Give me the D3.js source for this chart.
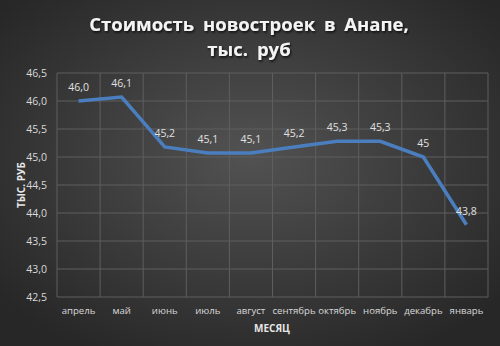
<!DOCTYPE html>
<html>
<head>
<meta charset="utf-8">
<script src="https://cdn.jsdelivr.net/npm/d3@7"></script>
<style>
  html, body { margin: 0; padding: 0; background: #2b2b2b; }
  svg { display: block; font-family: "Open Sans", "DejaVu Sans", sans-serif; }
</style>
</head>
<body>
<svg id="viz_area" width="500" height="346"></svg>
<script>
// data
const months = ["апрель", "май", "июнь", "июль", "август", "сентябрь", "октябрь", "ноябрь", "декабрь", "январь"];
const prices = [46.0, 46.07, 45.18, 45.07, 45.07, 45.18, 45.28, 45.28, 45.0, 43.79];
const priceLabels = ["46,0", "46,1", "45,2", "45,1", "45,1", "45,2", "45,3", "45,3", "45", "43,8"];
const yTicks = [42.5, 43.0, 43.5, 44.0, 44.5, 45.0, 45.5, 46.0, 46.5];

const run = () => {
    const W = 500, H = 346;
    const margin = {top: 73, right: 12, bottom: 49, left: 57};
    const width = W - margin.left - margin.right,
          height = H - margin.top - margin.bottom;

    const svg = d3.select("#viz_area");

    // background radial gradient
    const defs = svg.append("defs");
    const grad = defs.append("radialGradient")
        .attr("id", "bg")
        .attr("cx", "50%").attr("cy", "45%").attr("r", "65%");
    grad.append("stop").attr("offset", "0%").attr("stop-color", "#525252");
    grad.append("stop").attr("offset", "100%").attr("stop-color", "#272727");
    const shadow = defs.append("filter").attr("id", "shadow")
        .attr("x", "-10%").attr("y", "-30%").attr("width", "120%").attr("height", "160%");
    shadow.append("feDropShadow")
        .attr("dx", 1).attr("dy", 1.5).attr("stdDeviation", 1.2)
        .attr("flood-color", "#000").attr("flood-opacity", 0.8);

    svg.append("rect").attr("width", W).attr("height", H).attr("fill", "url(#bg)");

    // title
    const title = svg.append("text")
        .attr("text-anchor", "middle")
        .attr("fill", "#f4f4f4")
        .attr("font-size", 18.5)
        .attr("font-weight", "bold")
        .attr("word-spacing", 4)
        .attr("filter", "url(#shadow)");
    title.append("tspan").attr("x", 249).attr("y", 31).text("Стоимость новостроек в Анапе,");
    title.append("tspan").attr("x", 249).attr("y", 56).text("тыс. руб");

    const g = svg.append("g")
        .attr("transform", "translate(" + margin.left + "," + margin.top + ")");

    const x = d3.scaleBand()
        .range([0, width])
        .domain(months);

    const y = d3.scaleLinear()
        .domain([42.5, 46.5])
        .range([height, 0]);

    // horizontal gridlines
    g.append("g")
        .selectAll("line")
        .data(yTicks)
        .enter()
        .append("line")
        .attr("x1", 0).attr("x2", width)
        .attr("y1", d => y(d)).attr("y2", d => y(d))
        .attr("stroke", "#5e5e5e").attr("stroke-width", 1);

    // vertical gridlines at band edges
    const edges = months.map(m => x(m)).concat([width]);
    g.append("g")
        .selectAll("line")
        .data(edges)
        .enter()
        .append("line")
        .attr("x1", d => d).attr("x2", d => d)
        .attr("y1", 0).attr("y2", height)
        .attr("stroke", "#5e5e5e").attr("stroke-width", 1);

    // Y axis
    const yAxis = g.append("g")
        .call(d3.axisLeft(y).tickValues(yTicks).tickSize(0).tickPadding(10)
              .tickFormat(d => d3.format(".1f")(d).replace(".", ",")));
    yAxis.select(".domain").remove();
    yAxis.selectAll("text").attr("fill", "#d9d9d9").attr("font-size", 10.5)
        .attr("font-family", "\"Open Sans\", sans-serif");

    // X axis
    const xAxis = g.append("g")
        .attr("transform", "translate(0," + height + ")")
        .call(d3.axisBottom(x).tickSize(0).tickPadding(10));
    xAxis.select(".domain").remove();
    xAxis.selectAll("text").attr("fill", "#d9d9d9").attr("font-size", 9.6)
        .attr("font-family", "\"Open Sans\", sans-serif");

    // axis titles
    svg.append("text")
        .attr("transform", "translate(25," + (margin.top + height / 2) + ") rotate(-90)")
        .attr("text-anchor", "middle")
        .attr("fill", "#e6e6e6")
        .attr("font-size", 10)
        .attr("font-weight", "bold")
        .text("ТЫС. РУБ");
    svg.append("text")
        .attr("x", 272).attr("y", 332)
        .attr("text-anchor", "middle")
        .attr("fill", "#e6e6e6")
        .attr("font-size", 10)
        .attr("font-weight", "bold")
        .text("МЕСЯЦ");

    // line
    const line = d3.line()
        .x((d, i) => x(months[i]) + x.bandwidth() / 2)
        .y(d => y(d));
    g.append("path")
        .datum(prices)
        .attr("fill", "none")
        .attr("stroke", "#4a7ebf")
        .attr("stroke-width", 3.5)
        .attr("stroke-linejoin", "miter")
        .attr("d", line);

    // data labels
    g.append("g")
        .selectAll("text")
        .data(prices)
        .enter()
        .append("text")
        .attr("x", (d, i) => x(months[i]) + x.bandwidth() / 2)
        .attr("y", d => y(d) - 10)
        .attr("text-anchor", "middle")
        .attr("fill", "#e0e0e0")
        .attr("font-size", 10.5)
        .text((d, i) => priceLabels[i]);
};
window.onload = run;
</script>
</body>
</html>
